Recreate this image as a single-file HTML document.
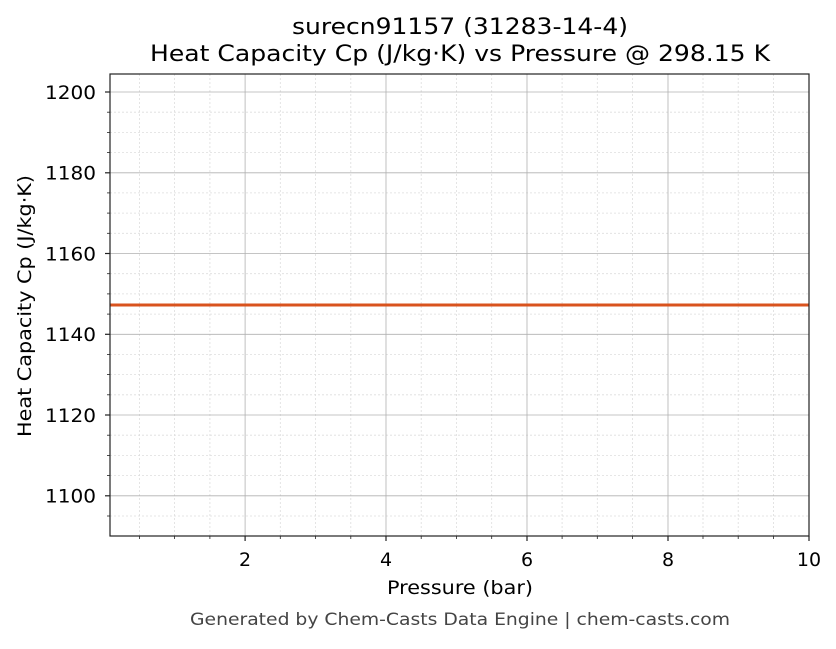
<!DOCTYPE html>
<html><head><meta charset="utf-8"><style>body{margin:0;background:#fff}</style></head><body>
<svg width="836" height="644" xmlns="http://www.w3.org/2000/svg" font-family="DejaVu Sans, Liberation Sans, sans-serif">
<rect width="836" height="644" fill="#fff"/>
<g stroke="#ddd" stroke-width="0.8" stroke-dasharray="2,2">
<line x1="139.4" y1="74" x2="139.4" y2="536"/><line x1="174.6" y1="74" x2="174.6" y2="536"/><line x1="209.9" y1="74" x2="209.9" y2="536"/>
<line x1="280.3" y1="74" x2="280.3" y2="536"/><line x1="315.6" y1="74" x2="315.6" y2="536"/><line x1="350.8" y1="74" x2="350.8" y2="536"/>
<line x1="421.2" y1="74" x2="421.2" y2="536"/><line x1="456.4" y1="74" x2="456.4" y2="536"/><line x1="491.7" y1="74" x2="491.7" y2="536"/>
<line x1="562.1" y1="74" x2="562.1" y2="536"/><line x1="597.3" y1="74" x2="597.3" y2="536"/><line x1="632.6" y1="74" x2="632.6" y2="536"/>
<line x1="703" y1="74" x2="703" y2="536"/><line x1="738.2" y1="74" x2="738.2" y2="536"/><line x1="773.5" y1="74" x2="773.5" y2="536"/>
<line x1="110" y1="112.2" x2="809" y2="112.2"/><line x1="110" y1="132.4" x2="809" y2="132.4"/><line x1="110" y1="152.6" x2="809" y2="152.6"/>
<line x1="110" y1="192.9" x2="809" y2="192.9"/><line x1="110" y1="213.1" x2="809" y2="213.1"/><line x1="110" y1="233.3" x2="809" y2="233.3"/>
<line x1="110" y1="273.7" x2="809" y2="273.7"/><line x1="110" y1="293.9" x2="809" y2="293.9"/><line x1="110" y1="314.1" x2="809" y2="314.1"/>
<line x1="110" y1="354.4" x2="809" y2="354.4"/><line x1="110" y1="374.6" x2="809" y2="374.6"/><line x1="110" y1="394.8" x2="809" y2="394.8"/>
<line x1="110" y1="435.2" x2="809" y2="435.2"/><line x1="110" y1="455.4" x2="809" y2="455.4"/><line x1="110" y1="475.6" x2="809" y2="475.6"/>
<line x1="110" y1="516" x2="809" y2="516"/>
</g>
<g stroke="#b0b0b0" stroke-width="0.8">
<line x1="245.1" y1="74" x2="245.1" y2="536"/><line x1="386" y1="74" x2="386" y2="536"/><line x1="527" y1="74" x2="527" y2="536"/><line x1="668" y1="74" x2="668" y2="536"/>
<line x1="110" y1="92" x2="809" y2="92"/><line x1="110" y1="172.8" x2="809" y2="172.8"/><line x1="110" y1="253.5" x2="809" y2="253.5"/><line x1="110" y1="334.3" x2="809" y2="334.3"/><line x1="110" y1="415" x2="809" y2="415"/><line x1="110" y1="495.8" x2="809" y2="495.8"/>
</g>
<line x1="110" y1="305" x2="809" y2="305" stroke="#d9531e" stroke-width="3"/>
<rect x="110" y="74" width="699" height="462" fill="none" stroke="#222" stroke-width="1.2"/>
<g stroke="#222" stroke-width="1.2">
<line x1="245.1" y1="536" x2="245.1" y2="541"/><line x1="386" y1="536" x2="386" y2="541"/><line x1="527" y1="536" x2="527" y2="541"/><line x1="668" y1="536" x2="668" y2="541"/><line x1="809" y1="536" x2="809" y2="541"/>
<line x1="105" y1="92" x2="110" y2="92"/><line x1="105" y1="172.8" x2="110" y2="172.8"/><line x1="105" y1="253.5" x2="110" y2="253.5"/><line x1="105" y1="334.3" x2="110" y2="334.3"/><line x1="105" y1="415" x2="110" y2="415"/><line x1="105" y1="495.8" x2="110" y2="495.8"/>
</g>
<g stroke="#222" stroke-width="0.8">
<line x1="139.4" y1="536" x2="139.4" y2="539"/><line x1="174.6" y1="536" x2="174.6" y2="539"/><line x1="209.9" y1="536" x2="209.9" y2="539"/><line x1="280.3" y1="536" x2="280.3" y2="539"/><line x1="315.6" y1="536" x2="315.6" y2="539"/><line x1="350.8" y1="536" x2="350.8" y2="539"/><line x1="421.2" y1="536" x2="421.2" y2="539"/><line x1="456.4" y1="536" x2="456.4" y2="539"/><line x1="491.7" y1="536" x2="491.7" y2="539"/><line x1="562.1" y1="536" x2="562.1" y2="539"/><line x1="597.3" y1="536" x2="597.3" y2="539"/><line x1="632.6" y1="536" x2="632.6" y2="539"/><line x1="703" y1="536" x2="703" y2="539"/><line x1="738.2" y1="536" x2="738.2" y2="539"/><line x1="773.5" y1="536" x2="773.5" y2="539"/>
<line x1="107" y1="112.2" x2="110" y2="112.2"/><line x1="107" y1="132.4" x2="110" y2="132.4"/><line x1="107" y1="152.6" x2="110" y2="152.6"/><line x1="107" y1="192.9" x2="110" y2="192.9"/><line x1="107" y1="213.1" x2="110" y2="213.1"/><line x1="107" y1="233.3" x2="110" y2="233.3"/><line x1="107" y1="273.7" x2="110" y2="273.7"/><line x1="107" y1="293.9" x2="110" y2="293.9"/><line x1="107" y1="314.1" x2="110" y2="314.1"/><line x1="107" y1="354.4" x2="110" y2="354.4"/><line x1="107" y1="374.6" x2="110" y2="374.6"/><line x1="107" y1="394.8" x2="110" y2="394.8"/><line x1="107" y1="435.2" x2="110" y2="435.2"/><line x1="107" y1="455.4" x2="110" y2="455.4"/><line x1="107" y1="475.6" x2="110" y2="475.6"/><line x1="107" y1="516" x2="110" y2="516"/>
</g>
<g font-size="19" fill="#000" text-anchor="middle">
<text x="245.1" y="566">2</text><text x="386" y="566">4</text><text x="527" y="566">6</text><text x="668" y="566">8</text><text x="809" y="566">10</text>
</g>
<g font-size="19" fill="#000">
<text x="45" y="99" textLength="51" lengthAdjust="spacingAndGlyphs">1200</text><text x="45" y="179.5" textLength="51" lengthAdjust="spacingAndGlyphs">1180</text><text x="45" y="260.5" textLength="51" lengthAdjust="spacingAndGlyphs">1160</text><text x="45" y="341" textLength="51" lengthAdjust="spacingAndGlyphs">1140</text><text x="45" y="422" textLength="51" lengthAdjust="spacingAndGlyphs">1120</text><text x="45" y="502.5" textLength="51" lengthAdjust="spacingAndGlyphs">1100</text>
</g>
<text x="387" y="594" font-size="19" textLength="146" lengthAdjust="spacingAndGlyphs">Pressure (bar)</text>
<text transform="translate(31,437) rotate(-90)" font-size="19" textLength="262" lengthAdjust="spacingAndGlyphs">Heat Capacity Cp (J/kg·K)</text>
<text x="292" y="34" font-size="22" textLength="336" lengthAdjust="spacingAndGlyphs">surecn91157 (31283-14-4)</text>
<text x="150" y="61" font-size="22" textLength="620" lengthAdjust="spacingAndGlyphs">Heat Capacity Cp (J/kg·K) vs Pressure @ 298.15 K</text>
<text x="190" y="625" font-size="17" fill="#444" textLength="540" lengthAdjust="spacingAndGlyphs">Generated by Chem-Casts Data Engine | chem-casts.com</text>
</svg>
</body></html>
